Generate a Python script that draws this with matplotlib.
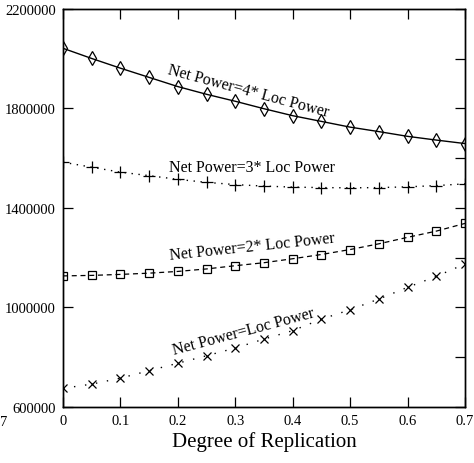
import numpy as np
import matplotlib
matplotlib.use("Agg")
import matplotlib.pyplot as plt

plt.rcParams['font.family'] = ['Liberation Serif', 'DejaVu Serif']

# grado de replicacion
replicacion = [0.0, 0.05, 0.1, 0.15, 0.2, 0.25, 0.3, 0.35, 0.4, 0.45, 0.5, 0.55, 0.6, 0.65, 0.7]

# potencia neta = 4 * potencia local
pot_4x = [2042000, 2001000, 1962000, 1925000, 1888000, 1857000, 1829000, 1799000,
          1771000, 1748000, 1725000, 1707000, 1688000, 1673000, 1659000]
# potencia neta = 3 * potencia local
pot_3x = [1584000, 1564000, 1544000, 1530000, 1515000, 1503000, 1494000, 1488000,
          1484000, 1482000, 1481000, 1482000, 1485000, 1490000, 1497000]
# potencia neta = 2 * potencia local
pot_2x = [1127000, 1129000, 1133000, 1138000, 1145000, 1155000, 1168000, 1180000,
          1196000, 1213000, 1233000, 1256000, 1282000, 1307000, 1338000]
# potencia neta = potencia local
pot_1x = [675000, 692000, 716000, 746000, 776000, 806000, 837000, 873000,
          907000, 953000, 991000, 1034000, 1081000, 1125000, 1175000]

etiquetas = ["Net Power=4* Loc Power", "Net Power=3* Loc Power",
             "Net Power=2* Loc Power", "Net Power=Loc Power"]

fig = plt.figure(figsize=(4.74, 4.64), dpi=100)
ax = fig.add_axes([0.1329, 0.1207, 0.8481, 0.8578])

ax.plot(replicacion, pot_4x, '-', color='black', lw=1.0,
        marker='d', ms=7.5, mfc='none', mec='black', mew=0.9)
ax.plot(replicacion, pot_3x, color='black', lw=1.0, ls=(0, (1, 4)),
        marker='+', ms=8, mew=0.9)
ax.plot(replicacion, pot_2x, color='black', lw=0.9, ls=(0, (4, 3)),
        marker='s', ms=6, mfc='none', mec='black', mew=0.9)
ax.plot(replicacion, pot_1x, color='black', lw=1.0, ls=(0, (1, 7)),
        marker='x', ms=6, mew=0.9)

ax.set_xlim(0, 0.7)
ax.set_ylim(600000, 2200000)
ax.set_xticks(np.arange(0, 0.71, 0.1))
ax.set_xticklabels(["0", "0.1", "0.2", "0.3", "0.4", "0.5", "0.6", "0.7"])
ax.set_yticks([600000, 1000000, 1400000, 1800000, 2200000])
ax.set_yticklabels(["600000", "1000000", "1400000", "1800000", "2200000"])
ax.tick_params(direction='in', length=7, width=0.9, labelsize=10.5, top=True,
               right=False, pad=5)

ax2 = ax.twinx()
ax2.set_ylim(600000, 2200000)
ax2.set_yticks(np.arange(600000, 2200001, 200000))
ax2.tick_params(direction='in', length=7, width=0.9, labelright=False)

for a in (ax, ax2):
    for s in a.spines.values():
        s.set_linewidth(1.0)

ax.set_xlabel("Degree of Replication", fontsize=15, labelpad=3)

# etiquetas de las curvas
ax.text(0.322, 1872000, etiquetas[0], fontsize=11.5, rotation=-15,
        ha='center', va='center', rotation_mode='anchor')
ax.text(0.329, 1565000, etiquetas[1], fontsize=11.5, ha='center', va='center')
ax.text(0.329, 1245000, etiquetas[2], fontsize=11.5, rotation=6,
        ha='center', va='center', rotation_mode='anchor')
ax.text(0.314, 903000, etiquetas[3], fontsize=11.5, rotation=15,
        ha='center', va='center', rotation_mode='anchor')

fig.text(0.0, 0.09, "7", fontsize=10.5, ha='left', va='center')

fig.savefig("out.png", dpi=100)
